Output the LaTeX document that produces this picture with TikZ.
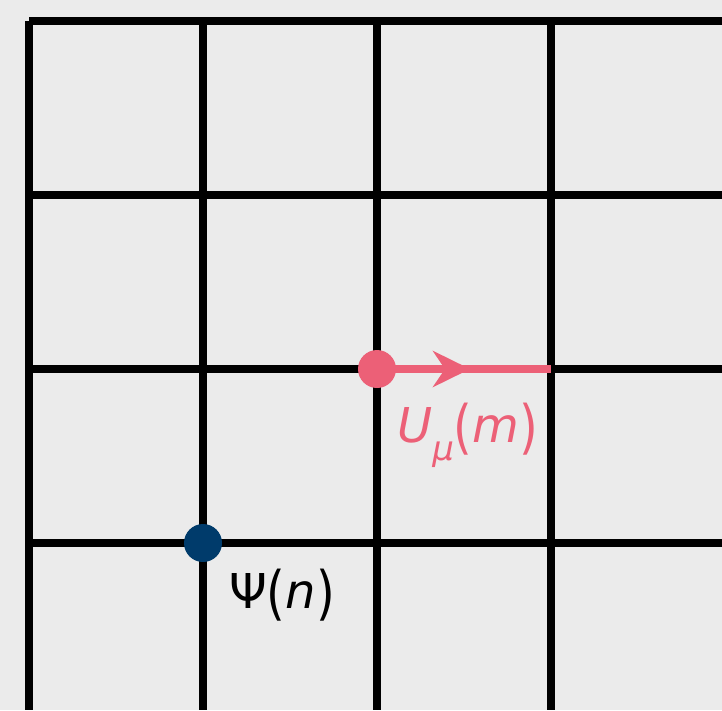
\documentclass[tikz,border=0pt]{standalone}
\usepackage{fontspec}
\setmainfont{DejaVu Sans}
\usetikzlibrary{arrows.meta}
\definecolor{bg}{HTML}{EBEBEB}
\definecolor{linkred}{HTML}{EC6077}
\definecolor{siteblue}{HTML}{003B6B}
\newcommand{\tallparen}[1]{\raisebox{-5pt}{\scalebox{1}[1.22]{#1}}}
\tikzset{
  gridline/.style={line width=8pt, black, line cap=butt},
  linkline/.style={line width=8pt, linkred, line cap=butt},
  sitedot/.style={circle, inner sep=0pt, minimum size=38pt},
  lbl/.style={inner sep=0pt, anchor=base west, font=\fontsize{48}{56}\selectfont}
}
\begin{document}
\begin{tikzpicture}[x=1pt,y=-1pt]
\fill[bg] (0,0) rectangle (722,710);
\useasboundingbox (0,0) rectangle (722,710);
% grid coordinates
\foreach \i/\x in {0/29,1/203,2/377,3/551}{
  \coordinate (vt\i) at (\x,20.5);
  \coordinate (vb\i) at (\x,710);
}
\foreach \j/\y in {0/20.5,1/195,2/369,3/543}{
  \coordinate (hl\j) at (29,\y);
  \coordinate (hr\j) at (722,\y);
}
\foreach \i in {0,1,2,3}{
  \draw[gridline] (vt\i) -- (vb\i);
  \draw[gridline] (hl\i) -- (hr\i);
}
% link
\coordinate (mstart) at (377,369);
\coordinate (mtip) at (470,369);
\coordinate (mend) at (551,369);
\draw[linkline] (mstart) -- (mend);
\draw[linkline, -{Stealth[length=37pt,width=36pt,inset=12pt]}] (mstart) -- (mtip);
\node[sitedot, fill=linkred] (m) at (mstart) {};
\node[sitedot, fill=siteblue] (n) at (203,543) {};
\node[lbl, text=linkred] (ulabel) at (397,442) {\textit{U}\raisebox{-0.38em}{\fontsize{34}{40}\selectfont\textit{μ}}\tallparen{(}\textit{m}\tallparen{)}};
\node[lbl, text=black] (psilabel) at (229,608) {Ψ\tallparen{(}\textit{n}\tallparen{)}};
\end{tikzpicture}
\end{document}
